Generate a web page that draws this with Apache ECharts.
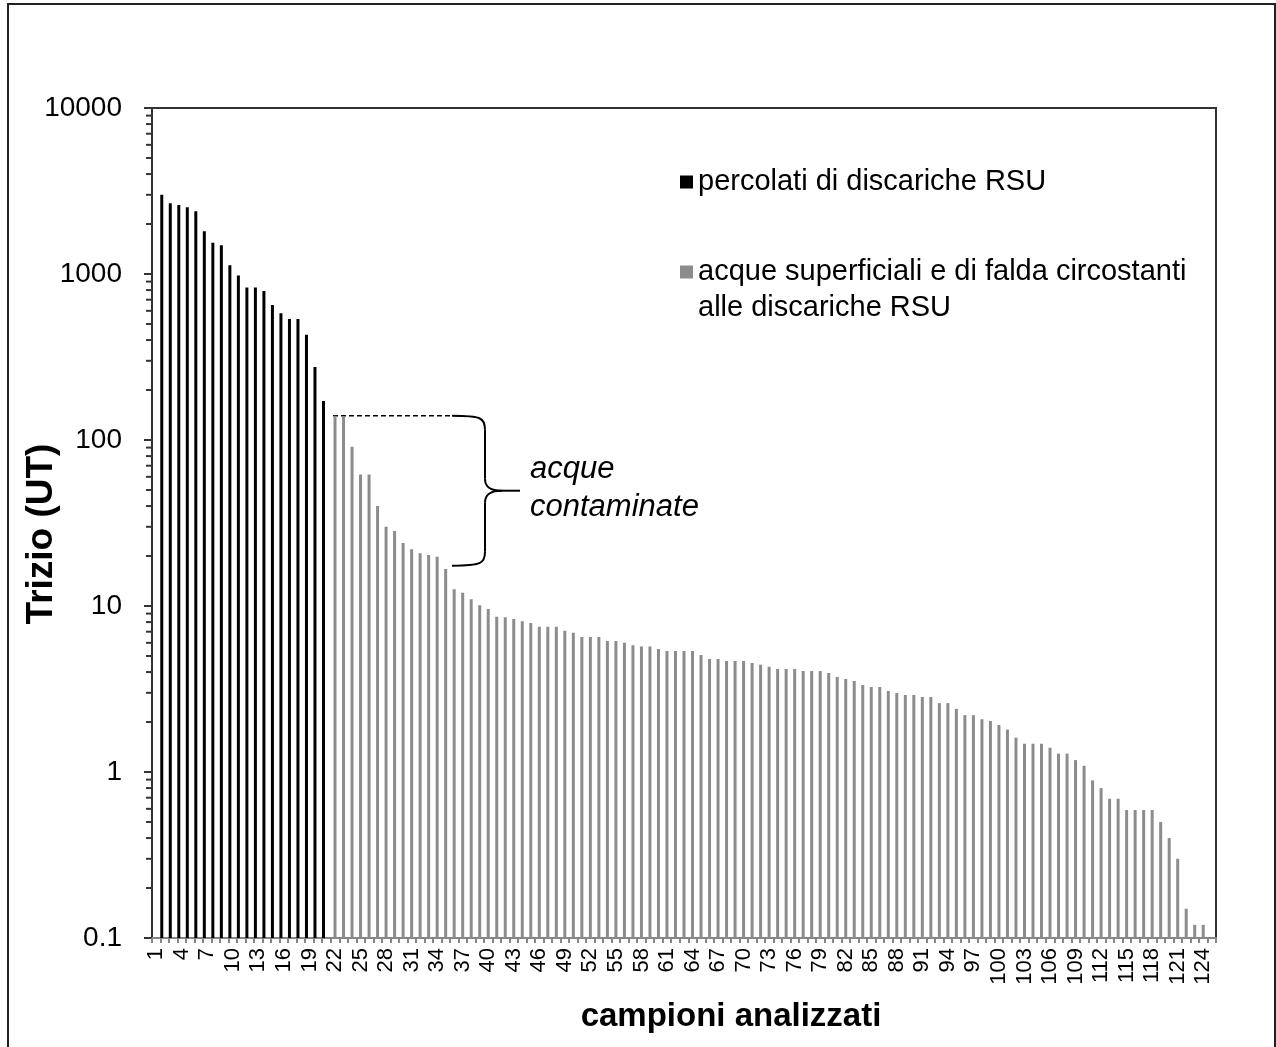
<!DOCTYPE html>
<html>
<head>
<meta charset="utf-8">
<script src="https://cdn.jsdelivr.net/npm/echarts@6/dist/echarts.min.js"></script>
<style>
  html, body { margin: 0; padding: 0; background: #fff; }
  #chart { width: 1276px; height: 1047px; }
</style>
</head>
<body>
<div id="chart"></div>
<script>
// Category axis: sample numbers
const campioni = ['1','2','3','4','5','6','7','8','9','10','11','12','13','14','15','16','17','18','19','20',
  '21','22','23','24','25','26','27','28','29','30','31','32','33','34','35','36','37','38','39','40',
  '41','42','43','44','45','46','47','48','49','50','51','52','53','54','55','56','57','58','59','60',
  '61','62','63','64','65','66','67','68','69','70','71','72','73','74','75','76','77','78','79','80',
  '81','82','83','84','85','86','87','88','89','90','91','92','93','94','95','96','97','98','99','100',
  '101','102','103','104','105','106','107','108','109','110','111','112','113','114','115','116','117','118','119','120',
  '121','122','123','124','125'];

// Tritium (UT), landfill leachates, starting at sample 2
const percolatiStart = 2;
const percolati = [3000, 2670, 2600, 2520, 2390, 1810, 1540, 1490, 1130, 980,
  830, 830, 790, 650, 580, 535, 535, 430, 275, 172];

// Tritium (UT), surface and ground waters around the landfills, starting at sample 22
const acqueStart = 22;
const acque = [140, 138, 91, 62, 62, 40, 30, 28.3, 24, 22,
  20.8, 20.3, 19.8, 16.7, 12.6, 12.0, 11.0, 10.1, 9.6, 8.6,
  8.55, 8.35, 8.1, 7.9, 7.5, 7.5, 7.5, 7.1, 6.9, 6.5,
  6.5, 6.5, 6.15, 6.15, 6.0, 5.8, 5.7, 5.7, 5.5, 5.35,
  5.35, 5.35, 5.35, 5.07, 4.8, 4.8, 4.67, 4.67, 4.67, 4.54,
  4.42, 4.3, 4.17, 4.17, 4.17, 4.06, 4.06, 4.06, 3.95, 3.73,
  3.63, 3.53, 3.34, 3.25, 3.25, 3.08, 2.99, 2.91, 2.91, 2.83,
  2.83, 2.6, 2.6, 2.4, 2.2, 2.2, 2.08, 2.03, 1.92, 1.8,
  1.61, 1.48, 1.48, 1.48, 1.4, 1.29, 1.29, 1.18, 1.09, 0.89,
  0.8, 0.69, 0.69, 0.59, 0.59, 0.59, 0.59, 0.5, 0.4, 0.3,
  0.15, 0.12, 0.12];

// Y axis range and decade labels
const yMin = 0.1;
const yMax = 10000;
const yTickLabels = ['0.1', '1', '10', '100', '1000', '10000'];

// Bracket over the contaminated waters
const contaminateTop = 140;
const contaminateBottom = 17.5;

const nomePercolati = 'percolati di discariche RSU';
const nomeAcque = 'acque superficiali e di falda circostanti';
const nomeAcqueRiga2 = 'alle discariche RSU';

const FONT = '"Liberation Sans", Arial, sans-serif';
const BAR_W = 3;
const GRID = { left: 152, right: 60, top: 108, bottom: 109 };

function toPairs(values, start) {
  return values.map((v, i) => [campioni[start - 1 + i], v]);
}

function barRenderer(offset, color) {
  return function (params, api) {
    const x = api.value(0);
    const v = api.value(1);
    const top = api.coord([x, v]);
    const base = api.coord([x, yMin]);
    return {
      type: 'rect',
      shape: { x: top[0] + offset - BAR_W / 2, y: top[1], width: BAR_W, height: base[1] - top[1] },
      style: { fill: color }
    };
  };
}

const chart = echarts.init(document.getElementById('chart'), null, { renderer: 'canvas' });

const legendText = { fontSize: 29, color: '#000', fontFamily: FONT, lineHeight: 35 };

const option = {
  animation: false,
  backgroundColor: '#fff',
  textStyle: { fontFamily: FONT },
  grid: {
    left: GRID.left, right: GRID.right, top: GRID.top, bottom: GRID.bottom,
    containLabel: false, outerBoundsMode: 'none',
    show: true, borderColor: '#333', borderWidth: 2, backgroundColor: 'transparent'
  },
  legend: [
    {
      orient: 'vertical', left: 680, top: 164.5, padding: 0,
      itemWidth: 13, itemHeight: 13, icon: 'rect',
      textStyle: legendText,
      data: [nomePercolati]
    },
    {
      orient: 'vertical', left: 680, top: 254.5, padding: 0,
      itemWidth: 13, itemHeight: 13, icon: 'rect',
      textStyle: legendText,
      data: [nomeAcque]
    }
  ],
  xAxis: {
    type: 'category',
    data: campioni,
    boundaryGap: true,
    axisLine: { lineStyle: { color: '#868686', width: 2 } },
    axisTick: { show: true, interval: 0, length: 5, lineStyle: { color: '#868686', width: 2 } },
    axisLabel: { interval: 2, rotate: 90, fontSize: 22, color: '#000', fontFamily: FONT, margin: 10 },
    splitLine: { show: false },
    name: 'campioni analizzati',
    nameLocation: 'middle',
    nameGap: 62,
    nameMoveOverlap: false,
    nameTextStyle: { fontSize: 33, fontWeight: 'bold', color: '#000', fontFamily: FONT, padding: [0, 0, 0, 94] }
  },
  yAxis: {
    type: 'log',
    logBase: 10,
    min: yMin,
    max: yMax,
    axisLine: { show: true, lineStyle: { color: '#333', width: 2 } },
    axisTick: { show: true, length: 8, lineStyle: { color: '#333', width: 2 } },
    splitLine: { show: false },
    axisLabel: {
      fontSize: 28, color: '#000', fontFamily: FONT, margin: 30,
      formatter: (v) => {
        const s = String(+Number(v).toPrecision(6));
        return yTickLabels.indexOf(s) >= 0 ? s : '';
      }
    },
    name: 'Trizio (UT)',
    nameLocation: 'middle',
    nameGap: 92,
    nameRotate: 90,
    nameMoveOverlap: false,
    nameTextStyle: { fontSize: 37, fontWeight: 'bold', color: '#000', fontFamily: FONT, padding: [0, 22, 0, 0] }
  },
  series: [
    {
      name: nomePercolati,
      type: 'custom',
      itemStyle: { color: '#000000' },
      encode: { x: 0, y: 1 },
      renderItem: barRenderer(-3, '#000000'),
      data: toPairs(percolati, percolatiStart)
    },
    {
      name: nomeAcque,
      type: 'custom',
      itemStyle: { color: '#8c8c8c' },
      encode: { x: 0, y: 1 },
      renderItem: barRenderer(0, '#8c8c8c'),
      data: toPairs(acque, acqueStart)
    }
  ]
};

chart.setOption(option);

// Minor ticks of the log axis (2..9 in each decade) and annotations
const axisX = chart.convertToPixel({ xAxisIndex: 0 }, campioni[0]) - (chart.convertToPixel({ xAxisIndex: 0 }, campioni[1]) - chart.convertToPixel({ xAxisIndex: 0 }, campioni[0])) / 2;
const graphics = [];
for (let e = -1; e < 4; e++) {
  for (let m = 2; m <= 9; m++) {
    const y = chart.convertToPixel({ yAxisIndex: 0 }, m * Math.pow(10, e));
    graphics.push({
      type: 'line', silent: true,
      shape: { x1: axisX - 6, y1: y, x2: axisX, y2: y },
      style: { stroke: '#333', lineWidth: 2 }
    });
  }
}

// Second line of the surface-water legend entry
graphics.push({
  type: 'text', silent: true, left: 698, top: 307 - 17,
  style: { text: nomeAcqueRiga2, font: '29px ' + FONT, fill: '#000', lineHeight: 35 }
});

const yTop = chart.convertToPixel({ yAxisIndex: 0 }, contaminateTop);
const yBot = chart.convertToPixel({ yAxisIndex: 0 }, contaminateBottom);
const xFirst = chart.convertToPixel({ xAxisIndex: 0 }, campioni[acqueStart - 1]);
const yMid = (yTop + yBot) / 2;
const bx0 = 452, bxV = 485, bxTip = 502, bxEnd = 520;
const braceStyle = { stroke: '#000', lineWidth: 2, fill: null };

graphics.push({
  type: 'line', silent: true,
  shape: { x1: xFirst - 2, y1: yTop, x2: bx0, y2: yTop },
  style: { stroke: '#000', lineWidth: 1.5, lineDash: [5, 3] }
});
// Curly brace
graphics.push(
  { type: 'bezierCurve', silent: true, style: braceStyle,
    shape: { x1: bx0, y1: yTop, cpx1: bxV - 4, cpy1: yTop, cpx2: bxV, cpy2: yTop + 2, x2: bxV, y2: yTop + 14 } },
  { type: 'line', silent: true, style: braceStyle,
    shape: { x1: bxV, y1: yTop + 14, x2: bxV, y2: yMid - 12 } },
  { type: 'bezierCurve', silent: true, style: braceStyle,
    shape: { x1: bxV, y1: yMid - 12, cpx1: bxV, cpy1: yMid - 3, cpx2: bxV + 6, cpy2: yMid, x2: bxTip, y2: yMid } },
  { type: 'line', silent: true, style: braceStyle,
    shape: { x1: bxTip, y1: yMid, x2: bxEnd, y2: yMid } },
  { type: 'bezierCurve', silent: true, style: braceStyle,
    shape: { x1: bxTip, y1: yMid, cpx1: bxV + 6, cpy1: yMid, cpx2: bxV, cpy2: yMid + 3, x2: bxV, y2: yMid + 12 } },
  { type: 'line', silent: true, style: braceStyle,
    shape: { x1: bxV, y1: yMid + 12, x2: bxV, y2: yBot - 14 } },
  { type: 'bezierCurve', silent: true, style: braceStyle,
    shape: { x1: bxV, y1: yBot - 14, cpx1: bxV, cpy1: yBot - 2, cpx2: bxV - 4, cpy2: yBot, x2: bx0, y2: yBot } }
);
graphics.push({
  type: 'text', silent: true, left: 530, top: yMid - 37,
  style: { text: 'acque', font: 'italic 31px ' + FONT, fill: '#000' }
});
graphics.push({
  type: 'text', silent: true, left: 530, top: yMid + 1,
  style: { text: 'contaminate', font: 'italic 31px ' + FONT, fill: '#000' }
});

// Outer frame
graphics.push({
  type: 'rect', silent: true,
  shape: { x: 8, y: 4, width: 1267, height: 1100 },
  style: { stroke: '#222', lineWidth: 2, fill: null }
});

chart.setOption({ graphic: graphics });
</script>
</body>
</html>
